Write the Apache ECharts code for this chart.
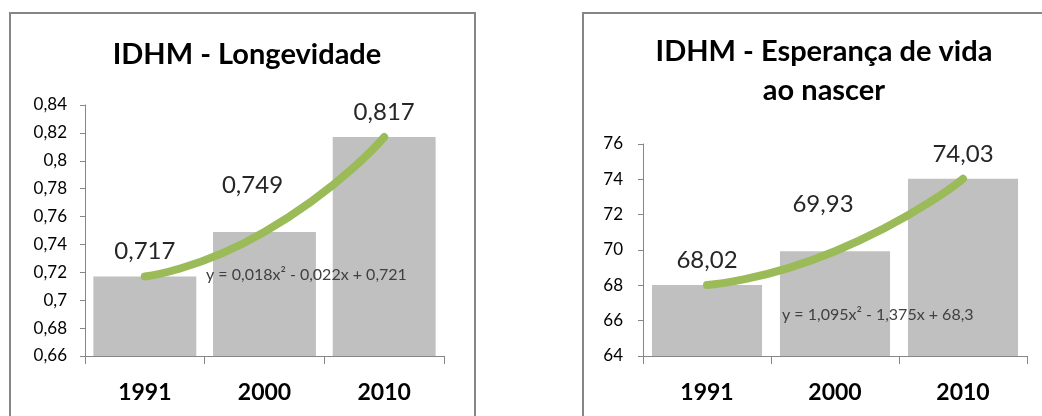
<!DOCTYPE html>
<html>
<head>
<meta charset="utf-8">
<script src="https://cdn.jsdelivr.net/npm/echarts@6/dist/echarts.min.js"></script>
<style>
  html, body { margin: 0; padding: 0; background: #fff; }
  #main { width: 1042px; height: 416px; }
</style>
</head>
<body>
<div id="main"></div>
<script>
// data
const years = ['1991', '2000', '2010'];
const longevidade = [0.717, 0.749, 0.817];
const esperanca = [68.02, 69.93, 74.03];
const eqLongevidade = 'y = 0,018x² - 0,022x + 0,721';
const eqEsperanca = 'y = 1,095x² - 1,375x + 68,3';

const FONT = 'Lato, "Open Sans", sans-serif';
const BAR = '#c0c0c0';
const TREND = '#9bbb59';
const AXIS = '#868686';

function comma(v, digits) {
  return String(+v.toFixed(digits)).replace('.', ',');
}

// middle label sits higher and a bit left in the original
function barData(values) {
  return values.map((v, i) => ({
    value: v,
    label: i === 1 ? { offset: [-12, -22] } : {}
  }));
}

function xAxis(gridIndex) {
  return {
    type: 'category',
    gridIndex: gridIndex,
    data: years,
    axisLine: { lineStyle: { color: AXIS } },
    axisTick: { show: true, length: 8, lineStyle: { color: AXIS } },
    axisLabel: { margin: 25, fontFamily: FONT, fontSize: 23, fontWeight: 'bold', color: '#000' }
  };
}

function yAxis(gridIndex, min, max, interval, digits, margin) {
  return {
    type: 'value',
    gridIndex: gridIndex,
    min: min,
    max: max,
    interval: interval,
    axisLine: { show: true, lineStyle: { color: AXIS } },
    axisTick: { show: true, length: 5, lineStyle: { color: AXIS } },
    splitLine: { show: false },
    axisLabel: {
      margin: margin,
      fontFamily: FONT,
      fontSize: 17,
      color: '#000',
      formatter: v => comma(v, digits)
    }
  };
}

const chart = echarts.init(document.getElementById('main'), null, { renderer: 'canvas' });

const option = {
  animation: false,
  title: [{
    text: 'IDHM - Longevidade',
    left: 242,
    top: 35,
    textAlign: 'center',
    textStyle: { fontFamily: FONT, fontSize: 29, fontWeight: 'bold', color: '#000' }
  }, {
    text: 'IDHM - Esperança de vida\nao nascer',
    left: 819,
    top: 27,
    textAlign: 'center',
    textStyle: { fontFamily: FONT, fontSize: 29, fontWeight: 'bold', color: '#000', lineHeight: 39 }
  }],
  grid: [
    { left: 85, right: 598, top: 105, bottom: 60 },
    { left: 643, right: 15, top: 144, bottom: 60 }
  ],
  xAxis: [xAxis(0), xAxis(1)],
  yAxis: [
    yAxis(0, 0.66, 0.84, 0.02, 2, 18),
    yAxis(1, 64, 76, 2, 2, 20)
  ],
  graphic: [
    { type: 'rect', shape: { x: 10, y: 13, width: 465, height: 420 }, style: { fill: 'none', stroke: AXIS, lineWidth: 2 }, z: -1 },
    { type: 'rect', shape: { x: 583, y: 13, width: 480, height: 420 }, style: { fill: 'none', stroke: AXIS, lineWidth: 2 }, z: -1 },
    { type: 'text', left: 206, top: 267, z: 10, style: { text: eqLongevidade, font: '16px ' + FONT, fill: '#404040' } },
    { type: 'text', left: 782, top: 307, z: 10, style: { text: eqEsperanca, font: '16px ' + FONT, fill: '#404040' } }
  ],
  series: [{
    type: 'bar',
    xAxisIndex: 0,
    yAxisIndex: 0,
    barCategoryGap: '14%',
    itemStyle: { color: BAR },
    label: {
      show: true, position: 'top', distance: 13,
      fontFamily: FONT, fontSize: 24, color: '#262626',
      formatter: p => comma(p.value, 3)
    },
    data: barData(longevidade)
  }, {
    type: 'line',
    xAxisIndex: 0,
    yAxisIndex: 0,
    smooth: 0.6,
    showSymbol: false,
    lineStyle: { color: TREND, width: 8, cap: 'round' },
    z: 5,
    data: longevidade
  }, {
    type: 'bar',
    xAxisIndex: 1,
    yAxisIndex: 1,
    barCategoryGap: '14%',
    itemStyle: { color: BAR },
    label: {
      show: true, position: 'top', distance: 13,
      fontFamily: FONT, fontSize: 24, color: '#262626',
      formatter: p => comma(p.value, 2).replace(/,(\d)$/, ',$10')
    },
    data: barData(esperanca)
  }, {
    type: 'line',
    xAxisIndex: 1,
    yAxisIndex: 1,
    smooth: 0.6,
    showSymbol: false,
    lineStyle: { color: TREND, width: 8, cap: 'round' },
    z: 5,
    data: esperanca
  }]
};

chart.setOption(option);
</script>
</body>
</html>
